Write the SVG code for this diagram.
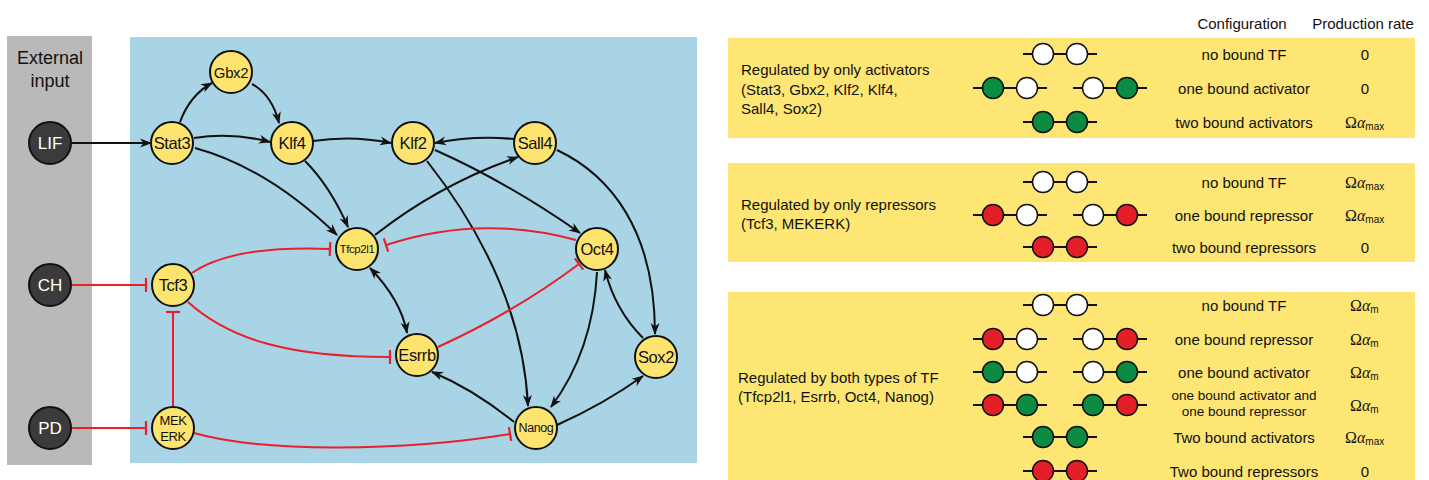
<svg xmlns="http://www.w3.org/2000/svg" width="1429" height="480" viewBox="0 0 1429 480">
<style>
  .node circle{fill:#FDE46F;stroke:#111;stroke-width:2}
  .ext circle{fill:#3B3B3B;stroke:#111;stroke-width:2}
  .nl{font-family:"Liberation Sans",Arial,sans-serif;font-size:16.5px;fill:#111;text-anchor:middle;dominant-baseline:central;letter-spacing:-0.4px}
  .el{font-family:"Liberation Sans",Arial,sans-serif;font-size:17px;fill:#fff;text-anchor:middle;dominant-baseline:central}
  .act{fill:none;stroke:#111;stroke-width:2;marker-end:url(#arr)}
  .inh{fill:none;stroke:#E8202A;stroke-width:2;marker-end:url(#bar)}
  .t{font-family:"Liberation Sans",Arial,sans-serif;font-size:15px;fill:#111;dominant-baseline:central}
  .c{text-anchor:middle}
  .r{font-family:"Liberation Serif","Times New Roman",serif;font-size:16px;fill:#111;dominant-baseline:central}
  .sub{font-family:"Liberation Sans",Arial,sans-serif;font-size:10px}
  .dl{stroke:#111;stroke-width:2}
  .w{fill:#fff;stroke:#111;stroke-width:1.5}
  .g{fill:#0B8A42;stroke:#111;stroke-width:1.5}
  .rd{fill:#E31E26;stroke:#111;stroke-width:1.5}
  .tb{fill:#FDE674}
</style>
<defs>
  <marker id="arr" viewBox="0 0 12 10" refX="11" refY="5" markerWidth="12" markerHeight="10" markerUnits="userSpaceOnUse" orient="auto-start-reverse">
    <path d="M0,0.5 L12,5 L0,9.5 L3.5,5 Z" fill="#111"/>
  </marker>
  <marker id="bar" viewBox="-2 -8 4 16" refX="0" refY="0" markerWidth="4" markerHeight="16" markerUnits="userSpaceOnUse" orient="auto">
    <path d="M0,-7 L0,7" stroke="#E8202A" stroke-width="2.2"/>
  </marker>
  <g id="ww"><line class="dl" x1="-37" y1="0" x2="37" y2="0"/><circle class="w" cx="-17" cy="0" r="10.5"/><circle class="w" cx="17" cy="0" r="10.5"/></g>
  <g id="gw"><line class="dl" x1="-37" y1="0" x2="37" y2="0"/><circle class="g" cx="-17" cy="0" r="10.5"/><circle class="w" cx="17" cy="0" r="10.5"/></g>
  <g id="wg"><line class="dl" x1="-37" y1="0" x2="37" y2="0"/><circle class="w" cx="-17" cy="0" r="10.5"/><circle class="g" cx="17" cy="0" r="10.5"/></g>
  <g id="gg"><line class="dl" x1="-37" y1="0" x2="37" y2="0"/><circle class="g" cx="-17" cy="0" r="10.5"/><circle class="g" cx="17" cy="0" r="10.5"/></g>
  <g id="rw"><line class="dl" x1="-37" y1="0" x2="37" y2="0"/><circle class="rd" cx="-17" cy="0" r="10.5"/><circle class="w" cx="17" cy="0" r="10.5"/></g>
  <g id="wr"><line class="dl" x1="-37" y1="0" x2="37" y2="0"/><circle class="w" cx="-17" cy="0" r="10.5"/><circle class="rd" cx="17" cy="0" r="10.5"/></g>
  <g id="rr"><line class="dl" x1="-37" y1="0" x2="37" y2="0"/><circle class="rd" cx="-17" cy="0" r="10.5"/><circle class="rd" cx="17" cy="0" r="10.5"/></g>
  <g id="rg"><line class="dl" x1="-37" y1="0" x2="37" y2="0"/><circle class="rd" cx="-17" cy="0" r="10.5"/><circle class="g" cx="17" cy="0" r="10.5"/></g>
  <g id="gr"><line class="dl" x1="-37" y1="0" x2="37" y2="0"/><circle class="g" cx="-17" cy="0" r="10.5"/><circle class="rd" cx="17" cy="0" r="10.5"/></g>
</defs>

<rect x="7" y="36" width="85" height="429" fill="#B9B9B9"/>
<rect x="130" y="37" width="567" height="426" fill="#A8D4E6"/>
<text x="50" y="58" class="t c" style="font-size:18px">External</text>
<text x="50" y="81" class="t c" style="font-size:18px">input</text>

<g id="connectors">
  <path class="act" d="M72,143 L151,143"/>
  <path class="act" d="M180,122 Q190,95 212,83"/>
  <path class="act" d="M252,84 Q272,95 279,123"/>
  <path class="act" d="M194,138 Q232,132 270,142"/>
  <path class="act" d="M313,141 Q352,135 391,143"/>
  <path class="act" d="M514,139 Q475,135 435,143"/>
  <path class="act" d="M195,148 Q268,168 337,235"/>
  <path class="act" d="M305,161 Q330,186 348,227"/>
  <path class="act" d="M375,235 Q440,184 518,157"/>
  <path class="act" d="M435,150 Q507,182 580,233"/>
  <path class="act" d="M427,161 Q522,282 528,406"/>
  <path class="act" d="M557,150 C610,175 655,230 655,334"/>
  <path class="act" style="marker-start:url(#arr)" d="M370,268 Q401,300 407,333"/>
  <path class="act" d="M597,272 C594,330 575,375 551,407"/>
  <path class="act" d="M643,338 Q615,310 605,270"/>
  <path class="act" d="M514,422 Q473,389 432,372"/>
  <path class="act" d="M557,425 Q604,404 643,376"/>
  <path class="inh" d="M576,240 Q480,214 386,245"/>
  <path class="inh" d="M192,273 C225,250 280,247 330,249"/>
  <path class="inh" d="M438,347 Q515,312 579,264"/>
  <path class="inh" d="M188,302 C230,340 290,357 390,357"/>
  <path class="inh" d="M194,433 C260,452 400,452 510,434"/>
  <path class="inh" d="M72,285 L146,285"/>
  <path class="inh" d="M72,428 L146,428"/>
  <path class="inh" d="M173,406 L173,312"/>
</g>

<g id="LIF" class="ext"><circle cx="50" cy="143" r="21"/><text x="50" y="143" class="el">LIF</text></g>
<g id="CH" class="ext"><circle cx="50" cy="285" r="21"/><text x="50" y="285" class="el">CH</text></g>
<g id="PD" class="ext"><circle cx="50" cy="428" r="21"/><text x="50" y="428" class="el">PD</text></g>

<g id="Stat3" class="node"><circle cx="172" cy="143" r="21"/><text x="172" y="143" class="nl">Stat3</text></g>
<g id="Gbx2" class="node"><circle cx="231" cy="72" r="21"/><text x="231" y="72" class="nl" style="font-size:15px">Gbx2</text></g>
<g id="Klf4" class="node"><circle cx="292" cy="143" r="21"/><text x="292" y="143" class="nl">Klf4</text></g>
<g id="Klf2" class="node"><circle cx="413" cy="143" r="21"/><text x="413" y="143" class="nl">Klf2</text></g>
<g id="Sall4" class="node"><circle cx="535" cy="143" r="21"/><text x="535" y="143" class="nl">Sall4</text></g>
<g id="Tfcp2l1" class="node"><circle cx="357" cy="249" r="21"/><text x="357" y="249" class="nl" style="font-size:11.5px">Tfcp2l1</text></g>
<g id="Oct4" class="node"><circle cx="597" cy="249" r="21"/><text x="597" y="249" class="nl">Oct4</text></g>
<g id="Tcf3" class="node"><circle cx="173" cy="285" r="21"/><text x="173" y="285" class="nl">Tcf3</text></g>
<g id="Esrrb" class="node"><circle cx="417" cy="355" r="21"/><text x="417" y="355" class="nl">Esrrb</text></g>
<g id="Sox2" class="node"><circle cx="656" cy="357" r="21"/><text x="656" y="357" class="nl">Sox2</text></g>
<g id="MEKERK" class="node"><circle cx="173" cy="428" r="21"/><text x="173" y="420" class="nl" style="font-size:13px">MEK</text><text x="173" y="436" class="nl" style="font-size:13px">ERK</text></g>
<g id="Nanog" class="node"><circle cx="536" cy="428" r="21"/><text x="536" y="428" class="nl" style="font-size:12.5px">Nanog</text></g>

<!-- table -->
<text x="1242" y="23" class="t c">Configuration</text>
<text x="1363" y="23" class="t c">Production rate</text>

<g id="box1">
  <rect class="tb" x="728" y="38" width="687" height="100"/>
  <text x="741" y="69" class="t">Regulated by only activators</text>
  <text x="741" y="89" class="t">(Stat3, Gbx2, Klf2, Klf4,</text>
  <text x="741" y="108" class="t">Sall4, Sox2)</text>
  <use href="#ww" x="1060" y="54"/>
  <use href="#gw" x="1010" y="88"/><use href="#wg" x="1110" y="88"/>
  <use href="#gg" x="1060" y="122"/>
  <text x="1244" y="54" class="t c">no bound TF</text>
  <text x="1244" y="88" class="t c">one bound activator</text>
  <text x="1244" y="122" class="t c">two bound activators</text>
  <text x="1365" y="54" class="t c">0</text>
  <text x="1365" y="88" class="t c">0</text>
  <text x="1345" y="122" class="r">Ω<tspan font-style="italic">α</tspan><tspan class="sub" dy="4">max</tspan></text>
</g>

<g id="box2">
  <rect class="tb" x="728" y="163" width="687" height="99"/>
  <text x="741" y="204" class="t">Regulated by only repressors</text>
  <text x="741" y="223" class="t">(Tcf3, MEKERK)</text>
  <use href="#ww" x="1060" y="182"/>
  <use href="#rw" x="1010" y="215"/><use href="#wr" x="1110" y="215"/>
  <use href="#rr" x="1060" y="247"/>
  <text x="1244" y="182" class="t c">no bound TF</text>
  <text x="1244" y="215" class="t c">one bound repressor</text>
  <text x="1244" y="247" class="t c">two bound repressors</text>
  <text x="1345" y="182" class="r">Ω<tspan font-style="italic">α</tspan><tspan class="sub" dy="4">max</tspan></text>
  <text x="1345" y="215" class="r">Ω<tspan font-style="italic">α</tspan><tspan class="sub" dy="4">max</tspan></text>
  <text x="1365" y="247" class="t c">0</text>
</g>

<g id="box3">
  <rect class="tb" x="728" y="292" width="687" height="188"/>
  <text x="738" y="377" class="t">Regulated by both types of TF</text>
  <text x="738" y="396" class="t">(Tfcp2l1, Esrrb, Oct4, Nanog)</text>
  <use href="#ww" x="1060" y="305"/>
  <use href="#rw" x="1010" y="339"/><use href="#wr" x="1110" y="339"/>
  <use href="#gw" x="1010" y="372"/><use href="#wg" x="1110" y="372"/>
  <use href="#rg" x="1010" y="405"/><use href="#gr" x="1110" y="405"/>
  <use href="#gg" x="1060" y="437"/>
  <use href="#rr" x="1060" y="471"/>
  <text x="1244" y="305" class="t c">no bound TF</text>
  <text x="1244" y="339" class="t c">one bound repressor</text>
  <text x="1244" y="372" class="t c">one bound activator</text>
  <text x="1244" y="395" class="t c" style="font-size:13.5px">one bound activator and</text>
  <text x="1244" y="411" class="t c" style="font-size:13.5px">one bound repressor</text>
  <text x="1244" y="437" class="t c">Two bound activators</text>
  <text x="1244" y="471" class="t c">Two bound repressors</text>
  <text x="1350" y="305" class="r">Ω<tspan font-style="italic">α</tspan><tspan class="sub" dy="4">m</tspan></text>
  <text x="1350" y="339" class="r">Ω<tspan font-style="italic">α</tspan><tspan class="sub" dy="4">m</tspan></text>
  <text x="1350" y="372" class="r">Ω<tspan font-style="italic">α</tspan><tspan class="sub" dy="4">m</tspan></text>
  <text x="1350" y="405" class="r">Ω<tspan font-style="italic">α</tspan><tspan class="sub" dy="4">m</tspan></text>
  <text x="1345" y="437" class="r">Ω<tspan font-style="italic">α</tspan><tspan class="sub" dy="4">max</tspan></text>
  <text x="1365" y="471" class="t c">0</text>
</g>
</svg>
